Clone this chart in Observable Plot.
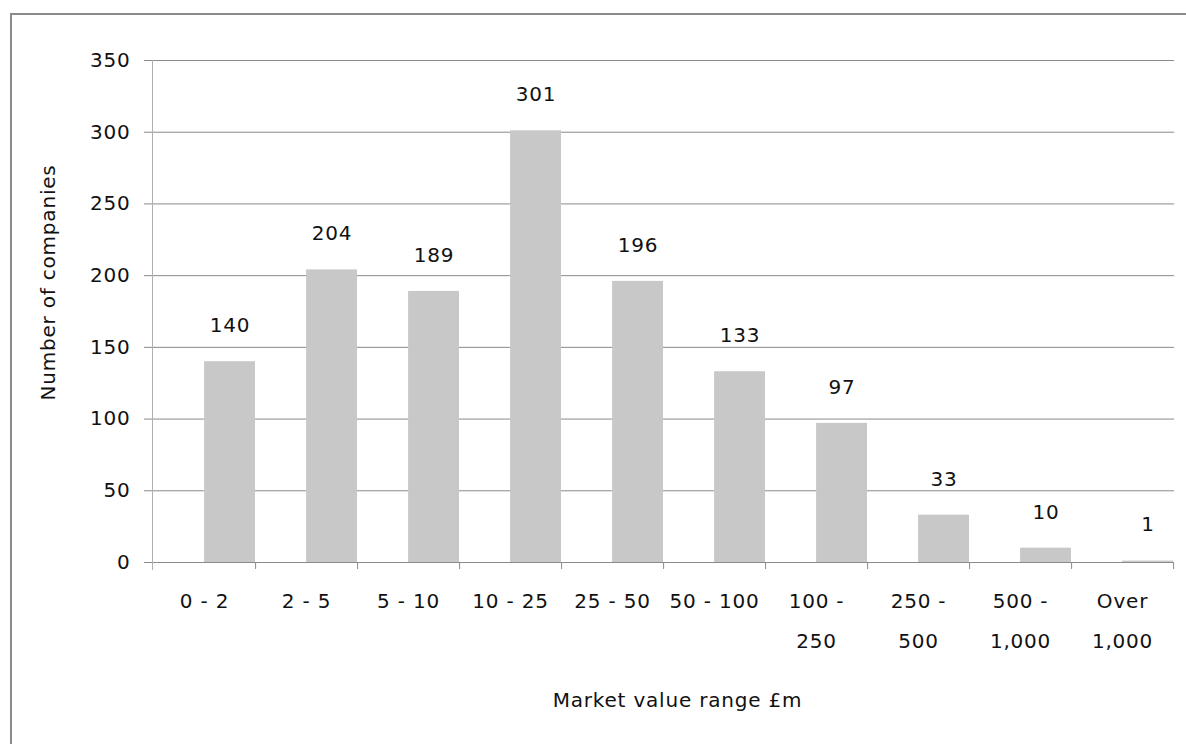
<!DOCTYPE html>
<html>
<head>
<meta charset="utf-8">
<script src="https://cdn.jsdelivr.net/npm/d3@7"></script>
<script src="https://cdn.jsdelivr.net/npm/@observablehq/plot@0.6"></script>
<style>
  html, body { margin: 0; padding: 0; background: #fff; overflow: hidden; }
  #wrap { position: relative; width: 1186px; height: 744px; }
  #border { position: absolute; left: 10px; top: 13px; width: 1400px; height: 1000px;
            border-left: 2px solid #8a8a8a; border-top: 2px solid #8a8a8a; box-sizing: border-box; }
  #chart { position: absolute; left: 0; top: 0; }
  #chart svg text { letter-spacing: 0.8px; }
</style>
</head>
<body>
<div id="wrap"><div id="border"></div><div id="chart"></div></div>
<script>
const categories = ["0 - 2", "2 - 5", "5 - 10", "10 - 25", "25 - 50", "50 - 100", "100 - 250", "250 - 500", "500 - 1,000", "Over 1,000"];
const tickLabels = ["0 - 2", "2 - 5", "5 - 10", "10 - 25", "25 - 50", "50 - 100", "100 -\n250", "250 -\n500", "500 -\n1,000", "Over\n1,000"];
const counts = [140, 204, 189, 301, 196, 133, 97, 33, 10, 1];
const yTicks = [0, 50, 100, 150, 200, 250, 300, 350];
const yTitle = "Number of companies";
const xTitle = "Market value range £m";

const data = categories.map((c, i) => ({cat: c, count: counts[i], label: tickLabels[i]}));

const W = 1186, H = 744, ML = 152, MR = 12, MT = 60, MB = 182;
const bw = (W - ML - MR) / categories.length;
const grid = "#8a8a8a";
const FS = 20;

const chart = Plot.plot({
  width: W, height: H,
  marginLeft: ML, marginRight: MR, marginTop: MT, marginBottom: MB,
  style: {fontFamily: "DejaVu Sans, sans-serif", fontSize: FS + "px", color: "#111", background: "transparent"},
  x: {type: "band", domain: categories, padding: 0, axis: null},
  y: {domain: [0, 350], axis: null},
  marks: [
    Plot.ruleY(yTicks.slice(1), {stroke: grid, insetLeft: -8}),
    Plot.barY(data, {x: "cat", y: "count", fill: "#c8c8c8", insetLeft: bw / 2}),
    Plot.ruleY([0], {stroke: grid, insetLeft: -8}),
    Plot.frame({anchor: "left", stroke: "#b0b0b0", insetBottom: -7}),
    Plot.ruleX(categories, {x: d => d, dx: bw / 2, y1: 0, y2: 0, insetBottom: -7, stroke: grid}),
    Plot.axisY({ticks: yTicks, tickSize: 0, tickPadding: 22, label: null, fontSize: FS}),
    Plot.text(data, {x: "cat", y: "count", text: d => String(d.count), dx: bw / 4, dy: -36, fontSize: FS}),
    Plot.text(data, {x: "cat", text: "label", frameAnchor: "bottom", lineAnchor: "top", dy: 17, lineHeight: 2, fontSize: FS}),
    Plot.text([yTitle], {frameAnchor: "left", textAnchor: "middle", rotate: -90, dx: -104, dy: -29, fontSize: FS}),
    Plot.text([xTitle], {frameAnchor: "bottom", lineAnchor: "middle", dx: 14, dy: 138, fontSize: FS})
  ]
});
document.getElementById("chart").appendChild(chart);
</script>
</body>
</html>
